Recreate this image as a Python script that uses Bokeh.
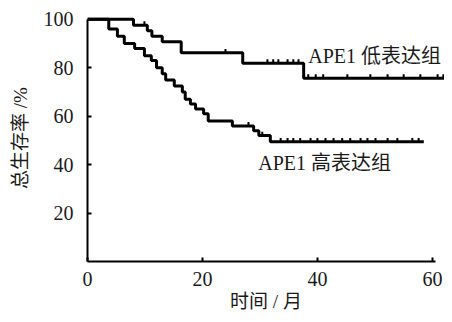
import numpy as np
from bokeh.plotting import figure
from bokeh.models import Range1d, FixedTicker, Label
from bokeh.embed import file_html
from bokeh.resources import INLINE

# ---- data ----
# APE1 low-expression group (upper curve)
times_low = [0, 8.0, 10.4, 11.2, 13.0, 16.3, 27.0, 37.6, 63.0]
surv_low = [100, 97.6, 95.3, 93.0, 90.7, 86.2, 81.9, 75.7, 75.7]
censor_low = [9.9, 24.0, 31.3, 32.3, 33.2, 34.8, 35.8, 36.7, 38.4, 39.7, 41.0,
              45.2, 49.2, 52.2, 55.0, 57.9, 60.9, 61.9]

# APE1 high-expression group (lower curve)
times_high = [0, 3.7, 5.2, 6.4, 8.2, 9.9, 11.1, 12.0, 13.0, 13.6, 15.1, 16.5,
              17.0, 17.9, 18.8, 20.2, 21.0, 25.2, 28.9, 29.8, 31.8, 58.5]
surv_high = [100, 96, 93, 90, 88, 85, 83, 80, 77.5, 75, 72.5, 70,
             67, 65, 63, 61, 58, 56, 54, 52, 49.4, 49.4]
censor_high = [28.0, 30.4, 33.6, 34.8, 35.8, 37.0, 38.8, 40.0, 41.4, 42.8, 44.3,
               45.7, 47.5, 48.7, 50.1, 52.2, 53.9, 56.5, 57.6]

x_ticks = [0, 20, 40, 60]
y_ticks = [20, 40, 60, 80, 100]
label_low = "APE1 低表达组"
label_high = "APE1 高表达组"
x_title = "时间 / 月"
y_title = "总生存率 /%"

SERIF = "'Liberation Serif', 'Noto Sans CJK SC'"
INK = "#1a1a1a"


def surv_at(times, surv, t):
    idx = np.searchsorted(np.array(times), np.array(t), side="right") - 1
    return np.array(surv)[idx]


p = figure(width=444, height=314, x_range=Range1d(0, 62.1), y_range=Range1d(0, 102),
           output_backend="svg", toolbar_location=None,
           min_border_left=87, min_border_right=0, min_border_top=14, min_border_bottom=47)

p.xgrid.visible = False
p.ygrid.visible = False
p.outline_line_color = None

for ax in (p.xaxis[0], p.yaxis[0]):
    ax.axis_line_width = 2
    ax.axis_line_color = "black"
    ax.major_tick_line_width = 2
    ax.major_tick_line_color = "black"
    ax.major_tick_in = 4
    ax.major_tick_out = 0
    ax.minor_tick_line_color = None
    ax.major_label_text_font = SERIF
    ax.major_label_text_font_size = "20px"
    ax.major_label_text_color = INK
    ax.axis_label_text_font = SERIF
    ax.axis_label_text_font_size = "19px"
    ax.axis_label_text_font_style = "normal"
    ax.axis_label_text_color = INK

p.xaxis.ticker = FixedTicker(ticks=x_ticks)
p.yaxis.ticker = FixedTicker(ticks=y_ticks)
p.xaxis.bounds = (0, 60.5)
p.yaxis.bounds = (0, 100)
p.xaxis.axis_label = x_title
p.yaxis.axis_label = y_title
p.xaxis.major_label_standoff = 10
p.xaxis.axis_label_standoff = 2
p.yaxis.major_label_standoff = 14
p.yaxis.axis_label_standoff = 10

# step curves
p.step(times_low, surv_low, mode="after", line_width=3, line_color="black")
p.step(times_high, surv_high, mode="after", line_width=3, line_color="black")

# censor marks (small upward ticks)
cl = surv_at(times_low, surv_low, censor_low)
ch = surv_at(times_high, surv_high, censor_high)
p.segment(x0=censor_low, y0=cl, x1=censor_low, y1=cl + 1.6, line_width=2, line_color="black")
p.segment(x0=censor_high, y0=ch, x1=censor_high, y1=ch + 1.6, line_width=2, line_color="black")

# group labels
p.add_layout(Label(x=38.4, y=84.7, text=label_low, text_font=SERIF, text_font_size="20px",
                   text_color=INK, text_align="left", text_baseline="middle"))
p.add_layout(Label(x=29.7, y=40.7, text=label_high, text_font=SERIF, text_font_size="20px",
                   text_color=INK, text_align="left", text_baseline="middle"))

open("out.html", "w").write(file_html(p, INLINE))
